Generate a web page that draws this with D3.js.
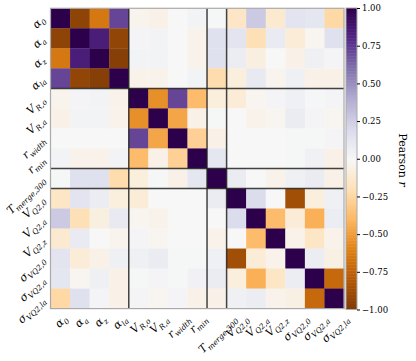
<!DOCTYPE html>
<html>
<head>
<meta charset="utf-8">
<script src="https://cdn.jsdelivr.net/npm/d3@7"></script>
<style>
  body { margin: 0; background: #fff; }
  text { font-family: "DejaVu Serif", serif; fill: #000; }
</style>
</head>
<body>
<div id="chart"></div>
<script>
// variable names: base glyph + subscript
var labelBase = ["α", "α", "α", "α", "V", "V", "r", "r", "T", "V", "V", "V", "σ", "σ", "σ"];
var labelSub = ["0", "a", "z", "la", "R,o", "R,a", "width", "min", "merge,300",
                "Q2,0", "Q2,a", "Q2,z", "VQ2,0", "VQ2,a", "VQ2,la"];

// Pearson correlation matrix (rows)
var corr = [
  [ 1.00, -0.94, -0.65,  0.72, -0.03, -0.05,  0.00,  0.03,  0.01, -0.15,  0.27, -0.12,  0.13,  0.12, -0.24],
  [-0.94,  1.00,  0.85, -0.93,  0.02,  0.03,  0.00, -0.04,  0.15,  0.13, -0.20,  0.09, -0.10, -0.02,  0.15],
  [-0.65,  0.85,  1.00, -0.97,  0.03,  0.03,  0.00, -0.04,  0.15,  0.07, -0.07,  0.00, -0.05,  0.05,  0.02],
  [ 0.72, -0.93, -0.97,  1.00, -0.04, -0.04,  0.00,  0.03, -0.22, -0.08,  0.10, -0.03,  0.05, -0.05, -0.05],
  [-0.03,  0.02,  0.03, -0.04,  1.00, -0.55,  0.72, -0.38, -0.08, -0.10, -0.02,  0.02,  0.05,  0.01,  0.02],
  [-0.05,  0.03,  0.03, -0.04, -0.55,  1.00, -0.47, -0.05,  0.01,  0.00, -0.04, -0.02,  0.08,  0.02, -0.02],
  [ 0.00,  0.00,  0.00,  0.00,  0.72, -0.47,  1.00, -0.28, -0.05,  0.00,  0.00,  0.00,  0.01,  0.01,  0.02],
  [ 0.03, -0.04, -0.04,  0.03, -0.38, -0.05, -0.28,  1.00,  0.12,  0.00,  0.00,  0.00,  0.01,  0.04, -0.05],
  [ 0.01,  0.15,  0.15, -0.22, -0.08,  0.01, -0.05,  0.12,  1.00,  0.08,  0.00, -0.04,  0.05,  0.08, -0.05],
  [-0.15,  0.13,  0.07, -0.08, -0.10,  0.00,  0.00,  0.00,  0.08,  1.00,  0.18,  0.00, -0.87, -0.08,  0.05],
  [ 0.27, -0.20, -0.07,  0.10, -0.02, -0.04,  0.00,  0.00,  0.00,  0.18,  1.00, -0.38, -0.10, -0.43,  0.07],
  [-0.12,  0.09,  0.00, -0.03,  0.02, -0.02,  0.00,  0.00, -0.04,  0.00, -0.38,  1.00, -0.04, -0.15, -0.04],
  [ 0.13, -0.10, -0.05,  0.05,  0.05,  0.08,  0.01,  0.01,  0.05, -0.87, -0.10, -0.04,  1.00,  0.07, -0.06],
  [ 0.12, -0.02,  0.05, -0.05,  0.01,  0.02,  0.01,  0.04,  0.08, -0.08, -0.43, -0.15,  0.07,  1.00, -0.72],
  [-0.24,  0.15,  0.02, -0.05,  0.02, -0.02,  0.02, -0.05, -0.05,  0.05,  0.07, -0.04, -0.06, -0.72,  1.00]
];

// group boundaries (index after which a line is drawn)
var groupBreaks = [4, 8, 9];
var cbTicks = [-1, -0.75, -0.5, -0.25, 0, 0.25, 0.5, 0.75, 1];

var width = 416, height = 361;
var svg = d3.select("#chart").append("svg")
  .attr("width", width)
  .attr("height", height);

// matplotlib PuOr
var puor = ["#7f3b08", "#b35806", "#e08214", "#fdb863", "#fee0b6", "#f7f7f7",
            "#d8daeb", "#b2abd2", "#8073ac", "#542788", "#2d004b"];
var color = d3.scaleLinear()
  .domain(d3.range(11).map(function(i) { return -1 + i * 0.2; }))
  .range(puor)
  .interpolate(d3.interpolateRgb)
  .clamp(true);

var idx = d3.range(labelBase.length);
var x = d3.scaleBand().domain(idx).range([50.5, 344]);
var y = d3.scaleBand().domain(idx).range([8.3, 308.6]);

var cells = [];
corr.forEach(function(row, i) {
  row.forEach(function(v, j) { cells.push({ i: i, j: j, v: v }); });
});

svg.append("g")
  .selectAll("rect")
  .data(cells)
  .join("rect")
  .attr("x", function(d) { return x(d.j); })
  .attr("y", function(d) { return y(d.i); })
  .attr("width", x.bandwidth() + 0.3)
  .attr("height", y.bandwidth() + 0.3)
  .attr("fill", function(d) { return color(d.v); });

// group separators
var sep = svg.append("g")
  .attr("stroke", "#222")
  .attr("stroke-opacity", 0.85)
  .attr("stroke-width", 1.5);
groupBreaks.forEach(function(b) {
  var xb = x(b), yb = y(b);
  sep.append("line").attr("x1", xb).attr("x2", xb)
    .attr("y1", y.range()[0]).attr("y2", y.range()[1]);
  sep.append("line").attr("y1", yb).attr("y2", yb)
    .attr("x1", x.range()[0]).attr("x2", x.range()[1]);
});

// heatmap frame
svg.append("rect")
  .attr("x", x.range()[0]).attr("y", y.range()[0])
  .attr("width", x.range()[1] - x.range()[0])
  .attr("height", y.range()[1] - y.range()[0])
  .attr("fill", "none")
  .attr("stroke", "#aaa")
  .attr("stroke-width", 1.2);

function addLabel(sel, i) {
  sel.append("tspan")
    .style("font-style", "italic")
    .style("font-size", "11px")
    .text(labelBase[i]);
  sel.append("tspan")
    .style("font-style", "italic")
    .style("font-size", "7.5px")
    .attr("dy", 3)
    .text(labelSub[i]);
}

// y labels: end of text anchored at row centre, rotated 45 deg
idx.forEach(function(i) {
  var t = svg.append("text")
    .attr("text-anchor", "end")
    .attr("transform", "translate(" + (x.range()[0] - 5) + "," + (y(i) + y.bandwidth() / 2 + 2) + ") rotate(-45)");
  addLabel(t, i);
});

// x labels: rotated 45 deg, centred under each column
idx.forEach(function(i) {
  var t = svg.append("text")
    .attr("text-anchor", "middle");
  addLabel(t, i);
  var L = t.node().getComputedTextLength();
  var h = (L + 10) * Math.SQRT1_2;
  t.attr("transform", "translate(" + (x(i) + x.bandwidth() / 2) + "," + (y.range()[1] + 4 + h / 2) + ") rotate(-45)")
    .attr("dy", "0.3em");
});

// colorbar
var cbX = 346, cbW = 11;
var cbY = d3.scaleLinear().domain([-1, 1]).range([309.5, 8]);
var steps = d3.range(-1, 1, 0.01);
svg.append("g")
  .selectAll("rect")
  .data(steps)
  .join("rect")
  .attr("x", cbX)
  .attr("width", cbW)
  .attr("y", function(d) { return cbY(d + 0.01); })
  .attr("height", function(d) { return cbY(d) - cbY(d + 0.01) + 0.5; })
  .attr("fill", function(d) { return color(d + 0.005); });

svg.append("rect")
  .attr("x", cbX).attr("y", cbY(1))
  .attr("width", cbW).attr("height", cbY(-1) - cbY(1))
  .attr("fill", "none").attr("stroke", "#aaa").attr("stroke-width", 1);

var axis = d3.axisRight(cbY)
  .tickValues(cbTicks)
  .tickSize(3)
  .tickPadding(2)
  .tickFormat(function(d) { return d3.format(".2f")(d).replace("-", "\u2212"); });
var ax = svg.append("g")
  .attr("transform", "translate(" + (cbX + cbW) + ",0)")
  .call(axis);
ax.select(".domain").remove();
ax.selectAll("text")
  .style("font-family", "DejaVu Serif")
  .style("font-size", "8.5px");

svg.append("text")
  .attr("transform", "translate(399,160) rotate(90)")
  .attr("text-anchor", "middle")
  .style("font-size", "11px")
  .text("Pearson ")
  .append("tspan").style("font-style", "italic").text("r");
</script>
</body>
</html>
